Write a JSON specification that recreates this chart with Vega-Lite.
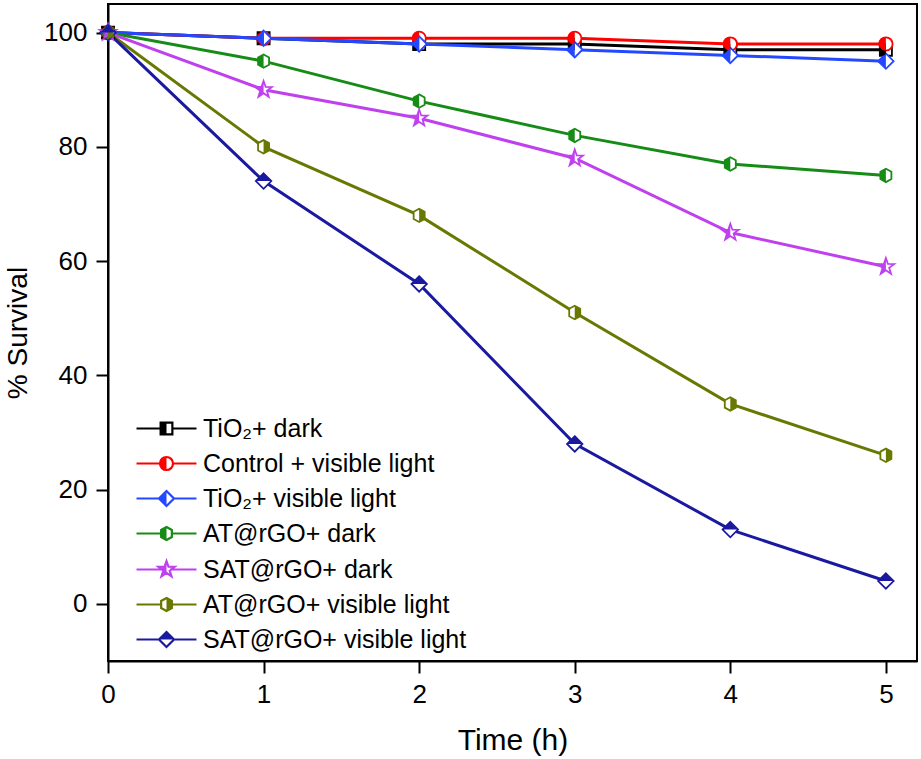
{
  "$schema": "https://vega.github.io/schema/vega-lite/v6.json",
  "width": 809,
  "height": 657,
  "autosize": {"type": "none"},
  "padding": {"left": 108, "top": 4, "right": 4, "bottom": 98},
  "background": "white",
  "config": {
    "view": {"stroke": "black", "strokeWidth": 2},
    "font": "Liberation Sans",
    "axis": {
      "grid": false,
      "domainColor": "black",
      "domainWidth": 2,
      "tickColor": "black",
      "tickWidth": 2,
      "tickSize": 12,
      "labelColor": "black",
      "labelFont": "Liberation Sans",
      "labelFontSize": 26,
      "titleColor": "black",
      "titleFont": "Liberation Sans",
      "titleFontSize": 30,
      "titleFontWeight": "normal",
      "labelFlush": false
    }
  },
  "data": {
    "values": [
      {"series": "TiO₂+ dark", "t": 0, "s": 100},
      {"series": "TiO₂+ dark", "t": 1, "s": 99},
      {"series": "TiO₂+ dark", "t": 2, "s": 98},
      {"series": "TiO₂+ dark", "t": 3, "s": 98},
      {"series": "TiO₂+ dark", "t": 4, "s": 97},
      {"series": "TiO₂+ dark", "t": 5, "s": 97},
      {"series": "Control + visible light", "t": 0, "s": 100},
      {"series": "Control + visible light", "t": 1, "s": 99},
      {"series": "Control + visible light", "t": 2, "s": 99},
      {"series": "Control + visible light", "t": 3, "s": 99},
      {"series": "Control + visible light", "t": 4, "s": 98},
      {"series": "Control + visible light", "t": 5, "s": 98},
      {"series": "TiO₂+ visible light", "t": 0, "s": 100},
      {"series": "TiO₂+ visible light", "t": 1, "s": 99},
      {"series": "TiO₂+ visible light", "t": 2, "s": 98},
      {"series": "TiO₂+ visible light", "t": 3, "s": 97},
      {"series": "TiO₂+ visible light", "t": 4, "s": 96},
      {"series": "TiO₂+ visible light", "t": 5, "s": 95},
      {"series": "AT@rGO+ dark", "t": 0, "s": 100},
      {"series": "AT@rGO+ dark", "t": 1, "s": 95},
      {"series": "AT@rGO+ dark", "t": 2, "s": 88},
      {"series": "AT@rGO+ dark", "t": 3, "s": 82},
      {"series": "AT@rGO+ dark", "t": 4, "s": 77},
      {"series": "AT@rGO+ dark", "t": 5, "s": 75},
      {"series": "SAT@rGO+ dark", "t": 0, "s": 100},
      {"series": "SAT@rGO+ dark", "t": 1, "s": 90},
      {"series": "SAT@rGO+ dark", "t": 2, "s": 85},
      {"series": "SAT@rGO+ dark", "t": 3, "s": 78},
      {"series": "SAT@rGO+ dark", "t": 4, "s": 65},
      {"series": "SAT@rGO+ dark", "t": 5, "s": 59},
      {"series": "AT@rGO+ visible light", "t": 0, "s": 100},
      {"series": "AT@rGO+ visible light", "t": 1, "s": 80},
      {"series": "AT@rGO+ visible light", "t": 2, "s": 68},
      {"series": "AT@rGO+ visible light", "t": 3, "s": 51},
      {"series": "AT@rGO+ visible light", "t": 4, "s": 35},
      {"series": "AT@rGO+ visible light", "t": 5, "s": 26},
      {"series": "SAT@rGO+ visible light", "t": 0, "s": 100},
      {"series": "SAT@rGO+ visible light", "t": 1, "s": 74},
      {"series": "SAT@rGO+ visible light", "t": 2, "s": 56},
      {"series": "SAT@rGO+ visible light", "t": 3, "s": 28},
      {"series": "SAT@rGO+ visible light", "t": 4, "s": 13},
      {"series": "SAT@rGO+ visible light", "t": 5, "s": 4}
    ]
  },
  "encoding": {
    "x": {
      "field": "t",
      "type": "quantitative",
      "scale": {"domain": [0, 5.2], "nice": false, "zero": false},
      "axis": {"values": [0, 1, 2, 3, 4, 5], "title": "Time (h)", "labelPadding": 8, "titlePadding": 18}
    },
    "y": {
      "field": "s",
      "type": "quantitative",
      "scale": {"domain": [-10, 105], "nice": false, "zero": false},
      "axis": {"values": [0, 20, 40, 60, 80, 100], "title": "% Survival", "labelPadding": 9, "titlePadding": 11, "titleFontSize": 28}
    }
  },
  "layer": [
    {
      "mark": {"type": "line", "strokeWidth": 3},
      "encoding": {
        "color": {
          "field": "series",
          "type": "nominal",
          "scale": {
            "domain": ["TiO₂+ dark", "Control + visible light", "TiO₂+ visible light", "AT@rGO+ dark", "SAT@rGO+ dark", "AT@rGO+ visible light", "SAT@rGO+ visible light"],
            "range": ["#000000", "#ff0000", "#2448ff", "#168c16", "#c040ee", "#687800", "#1a1aa0"]
          },
          "legend": null
        }
      }
    },
    {
      "mark": {"type": "point", "filled": true, "fill": "white", "size": 180, "strokeWidth": 1.8, "opacity": 1},
      "encoding": {
        "stroke": {
          "field": "series",
          "type": "nominal",
          "scale": {
            "domain": ["TiO₂+ dark", "Control + visible light", "TiO₂+ visible light", "AT@rGO+ dark", "SAT@rGO+ dark", "AT@rGO+ visible light", "SAT@rGO+ visible light"],
            "range": ["#000000", "#ff0000", "#2448ff", "#168c16", "#c040ee", "#687800", "#1a1aa0"]
          },
          "legend": null
        },
        "shape": {
          "field": "series",
          "type": "nominal",
          "scale": {
            "domain": ["TiO₂+ dark", "Control + visible light", "TiO₂+ visible light", "AT@rGO+ dark", "SAT@rGO+ dark", "AT@rGO+ visible light", "SAT@rGO+ visible light"],
            "range": [
              "M-0.9,-0.9H0.9V0.9H-0.9Z",
              "M0,-1A1,1 0 1,1 0,1A1,1 0 1,1 0,-1Z",
              "M0,-1.15L1.15,0L0,1.15L-1.15,0Z",
              "M0,-1L0.82,-0.55L0.82,0.55L0,1L-0.82,0.55L-0.82,-0.55Z",
              "M0,-1.3L0.306,-0.421L1.236,-0.402L0.494,0.161L0.764,1.052L0,0.52L-0.764,1.052L-0.494,0.161L-1.236,-0.402L-0.306,-0.421Z",
              "M0,-1L0.82,-0.55L0.82,0.55L0,1L-0.82,0.55L-0.82,-0.55Z",
              "M0,-1.15L1.15,0L0,1.15L-1.15,0Z"
            ]
          },
          "legend": null
        }
      }
    },
    {
      "mark": {"type": "point", "filled": true, "size": 180, "strokeWidth": 0, "opacity": 1},
      "encoding": {
        "fill": {
          "field": "series",
          "type": "nominal",
          "scale": {
            "domain": ["TiO₂+ dark", "Control + visible light", "TiO₂+ visible light", "AT@rGO+ dark", "SAT@rGO+ dark", "AT@rGO+ visible light", "SAT@rGO+ visible light"],
            "range": ["#000000", "#ff0000", "#2448ff", "#168c16", "#c040ee", "#687800", "#1a1aa0"]
          },
          "legend": null
        },
        "shape": {
          "field": "series",
          "type": "nominal",
          "scale": {
            "domain": ["TiO₂+ dark", "Control + visible light", "TiO₂+ visible light", "AT@rGO+ dark", "SAT@rGO+ dark", "AT@rGO+ visible light", "SAT@rGO+ visible light"],
            "range": [
              "M-0.9,-0.9H0V0.9H-0.9Z",
              "M0,-1A1,1 0 0,0 0,1Z",
              "M0,-1.15L0,1.15L-1.15,0Z",
              "M0,-1L-0.82,-0.55L-0.82,0.55L0,1Z",
              "M0,-1.3L0,0.52L-0.764,1.052L-0.494,0.161L-1.236,-0.402L-0.306,-0.421Z",
              "M0,-1L0.82,-0.55L0.82,0.55L0,1Z",
              "M-1.15,0L0,-1.15L1.15,0Z"
            ]
          },
          "legend": null
        }
      }
    },
    {
      "transform": [{"filter": "datum.t < 0"}],
      "mark": {"type": "point", "filled": true, "fill": "white", "size": 170, "strokeWidth": 2, "opacity": 1},
      "encoding": {
        "stroke": {
          "field": "series",
          "type": "nominal",
          "scale": {
            "domain": ["TiO₂+ dark", "Control + visible light", "TiO₂+ visible light", "AT@rGO+ dark", "SAT@rGO+ dark", "AT@rGO+ visible light", "SAT@rGO+ visible light"],
            "range": ["#000000", "#ff0000", "#2448ff", "#168c16", "#c040ee", "#687800", "#1a1aa0"]
          },
          "legend": {"title": null, "orient": "none", "legendX": 46, "legendY": 412, "padding": 0, "symbolSize": 170, "symbolStrokeWidth": 2.2, "symbolFillColor": "white", "labelFontSize": 25, "labelFont": "Liberation Sans", "labelColor": "black", "labelOffset": 24, "rowPadding": 9, "labelLimit": 500}
        },
        "shape": {
          "field": "series",
          "type": "nominal",
          "scale": {
            "domain": ["TiO₂+ dark", "Control + visible light", "TiO₂+ visible light", "AT@rGO+ dark", "SAT@rGO+ dark", "AT@rGO+ visible light", "SAT@rGO+ visible light"],
            "range": [
              "M-4.6,0H-0.9M0.9,0H4.6M-0.9,-0.9H0.9V0.9H-0.9Z",
              "M-4.6,0H-1M1,0H4.6M0,-1A1,1 0 1,1 0,1A1,1 0 1,1 0,-1Z",
              "M-4.6,0H-1.15M1.15,0H4.6M0,-1.15L1.15,0L0,1.15L-1.15,0Z",
              "M-4.6,0H-0.82M0.82,0H4.6M0,-1L0.82,-0.55L0.82,0.55L0,1L-0.82,0.55L-0.82,-0.55Z",
              "M-4.6,0H-0.5M0.5,0H4.6M0,-1.3L0.306,-0.421L1.236,-0.402L0.494,0.161L0.764,1.052L0,0.52L-0.764,1.052L-0.494,0.161L-1.236,-0.402L-0.306,-0.421Z",
              "M-4.6,0H-0.82M0.82,0H4.6M0,-1L0.82,-0.55L0.82,0.55L0,1L-0.82,0.55L-0.82,-0.55Z",
              "M-4.6,0H-1.15M1.15,0H4.6M0,-1.15L1.15,0L0,1.15L-1.15,0Z"
            ]
          },
          "legend": {"title": null, "orient": "none", "legendX": 46, "legendY": 412, "padding": 0, "symbolSize": 170, "symbolStrokeWidth": 2.2, "symbolFillColor": "white", "labelFontSize": 25, "labelFont": "Liberation Sans", "labelColor": "black", "labelOffset": 24, "rowPadding": 9, "labelLimit": 500}
        }
      }
    },
    {
      "transform": [{"filter": "datum.t < 0"}],
      "mark": {"type": "point", "filled": true, "size": 170, "stroke": "transparent", "strokeWidth": 2.2, "opacity": 1},
      "encoding": {
        "fill": {
          "field": "series",
          "type": "nominal",
          "scale": {
            "domain": ["TiO₂+ dark", "Control + visible light", "TiO₂+ visible light", "AT@rGO+ dark", "SAT@rGO+ dark", "AT@rGO+ visible light", "SAT@rGO+ visible light"],
            "range": ["#000000", "#ff0000", "#2448ff", "#168c16", "#c040ee", "#687800", "#1a1aa0"]
          },
          "legend": {"title": null, "orient": "none", "legendX": 46, "legendY": 412, "padding": 0, "symbolSize": 170, "symbolStrokeWidth": 2.2, "symbolStrokeColor": "transparent", "labelFontSize": 25, "labelFont": "Liberation Sans", "labelColor": "black", "labelOpacity": 0, "labelOffset": 24, "rowPadding": 9, "labelLimit": 500}
        },
        "shape": {
          "field": "series",
          "type": "nominal",
          "scale": {
            "domain": ["TiO₂+ dark", "Control + visible light", "TiO₂+ visible light", "AT@rGO+ dark", "SAT@rGO+ dark", "AT@rGO+ visible light", "SAT@rGO+ visible light"],
            "range": [
              "M-0.9,-0.9H0V0.9H-0.9Z",
              "M0,-1A1,1 0 0,0 0,1Z",
              "M0,-1.15L0,1.15L-1.15,0Z",
              "M0,-1L-0.82,-0.55L-0.82,0.55L0,1Z",
              "M0,-1.3L0,0.52L-0.764,1.052L-0.494,0.161L-1.236,-0.402L-0.306,-0.421Z",
              "M0,-1L0.82,-0.55L0.82,0.55L0,1Z",
              "M-1.15,0L0,-1.15L1.15,0Z"
            ]
          },
          "legend": {"title": null, "orient": "none", "legendX": 46, "legendY": 412, "padding": 0, "symbolSize": 170, "symbolStrokeWidth": 2.2, "symbolStrokeColor": "transparent", "labelFontSize": 25, "labelFont": "Liberation Sans", "labelColor": "black", "labelOpacity": 0, "labelOffset": 24, "rowPadding": 9, "labelLimit": 500}
        }
      }
    }
  ],
  "resolve": {
    "scale": {"color": "independent", "shape": "independent", "stroke": "independent", "fill": "independent"},
    "legend": {"color": "independent", "shape": "independent", "stroke": "independent", "fill": "independent"}
  }
}
